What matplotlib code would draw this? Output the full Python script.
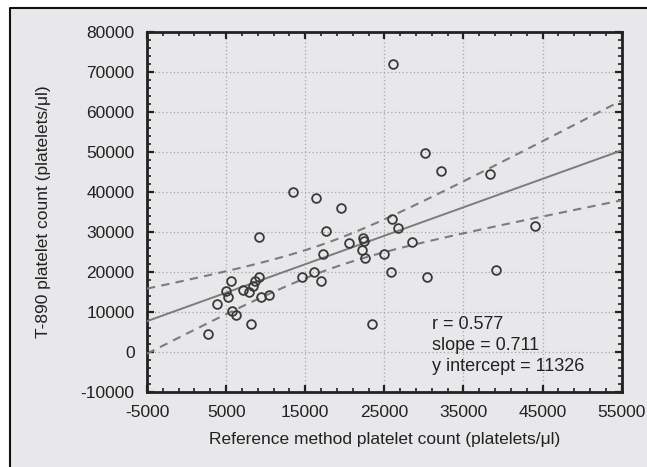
import numpy as np
import matplotlib
matplotlib.use("Agg")
import matplotlib.pyplot as plt
from matplotlib.patches import Rectangle
from matplotlib.lines import Line2D
from matplotlib.ticker import MultipleLocator, FixedLocator

# Reference method (x) vs T-890 (y) platelet counts
ref_count = [26100, 13500, 16400, 19500, 9200, 17600, 20500, 22300, 22400, 22200,
             22600, 17200, 24900, 26000, 26700, 25800, 14600, 16100, 17000, 5600,
             5000, 5200, 7100, 7900, 8400, 8600, 9200, 9400, 10400, 3800,
             5800, 6300, 8100, 2700, 23400, 30200, 32100, 38300, 28500, 30400,
             39100, 44000]
t890_count = [71900, 40000, 38600, 36000, 28900, 30200, 27200, 28600, 27800, 25500,
              23500, 24500, 24500, 33400, 31100, 20000, 18700, 20000, 17800, 17800,
              15300, 13700, 15600, 15000, 16500, 17900, 18700, 13700, 14200, 12000,
              10300, 9400, 7100, 4500, 7100, 49700, 45300, 44500, 27600, 18800,
              20500, 31500]

r_value = 0.577
slope = 0.711
intercept = 11326

x_ticks = [-5000, 5000, 15000, 25000, 35000, 45000, 55000]
y_ticks = [-10000, 0, 10000, 20000, 30000, 40000, 50000, 60000, 70000, 80000]

plt.rcParams['font.family'] = ['Liberation Sans', 'DejaVu Sans']
plt.rcParams['axes.unicode_minus'] = False

bg = '#e8e8ea'
W, H = 647, 467
fig = plt.figure(figsize=(6.47, 4.67), dpi=100, facecolor='white')
# grey panel, framed on left and top only (the picture is cropped there)
fig.add_artist(Rectangle((10 / W, 0), 1, 1 - 8 / H, transform=fig.transFigure,
                         facecolor=bg, edgecolor='none', zorder=-5))
fig.add_artist(Line2D([10 / W, 10 / W, 1], [0, 1 - 8 / H, 1 - 8 / H],
                      transform=fig.transFigure, color='#111111', lw=1.5, zorder=-4))

ax = fig.add_axes([147 / W, 1 - 392.3 / H, 474.7 / W, 360.3 / H])
ax.set_facecolor(bg)

x = np.array(ref_count, dtype=float)
y = np.array(t890_count, dtype=float)

# regression line and 95% confidence band of the mean
xs = np.linspace(-5000, 55000, 200)
fit = intercept + slope * xs
n = len(x)
resid = y - (intercept + slope * x)
s = np.sqrt(np.sum(resid ** 2) / (n - 2))
sxx = np.sum((x - x.mean()) ** 2)
half = 2.02 * s * np.sqrt(1 / n + (xs - x.mean()) ** 2 / sxx)

ax.plot(xs, fit, color='#7c7c7c', lw=1.4, zorder=3)
ax.plot(xs, fit + half, color='#7c7c7c', lw=1.5, ls=(0, (4, 3)), zorder=3)
ax.plot(xs, fit - half, color='#7c7c7c', lw=1.5, ls=(0, (4, 3)), zorder=3)

ax.plot(x, y, 'o', mfc='none', mec='#3a3a3a', ms=6.3, mew=1.3, zorder=4)

ax.set_xlim(-5000, 55000)
ax.set_ylim(-10000, 80000)
ax.xaxis.set_major_locator(FixedLocator(x_ticks))
ax.yaxis.set_major_locator(FixedLocator(y_ticks))
ax.xaxis.set_minor_locator(FixedLocator(np.arange(-5000, 55001, 2000)))
ax.yaxis.set_minor_locator(MultipleLocator(2000))

ax.grid(True, which='major', color='#a8a8a8', ls=(0, (1, 2)), lw=0.9)
ax.tick_params(which='both', direction='in', top=True, right=True,
               color='#222222', labelsize=12.5, labelcolor='#222222')
ax.tick_params(which='major', length=5, width=1.6, pad=9)
ax.tick_params(which='minor', length=3, width=1.2)
for sp in ax.spines.values():
    sp.set_linewidth(2)
    sp.set_color('#222222')

ax.set_xlabel('Reference method platelet count (platelets/\u03bcl)',
              fontsize=12.5, color='#222222', labelpad=9)
ax.set_ylabel('T-890 platelet count (platelets/\u03bcl)',
              fontsize=12.5, color='#222222', labelpad=21)

ax.text(0.601, 0.212, f'r = {r_value}\nslope = {slope}\ny intercept = {intercept}',
        transform=ax.transAxes, fontsize=13, color='#222222',
        va='top', ha='left', linespacing=1.3)

fig.savefig('out.png', dpi=100, facecolor='white')
